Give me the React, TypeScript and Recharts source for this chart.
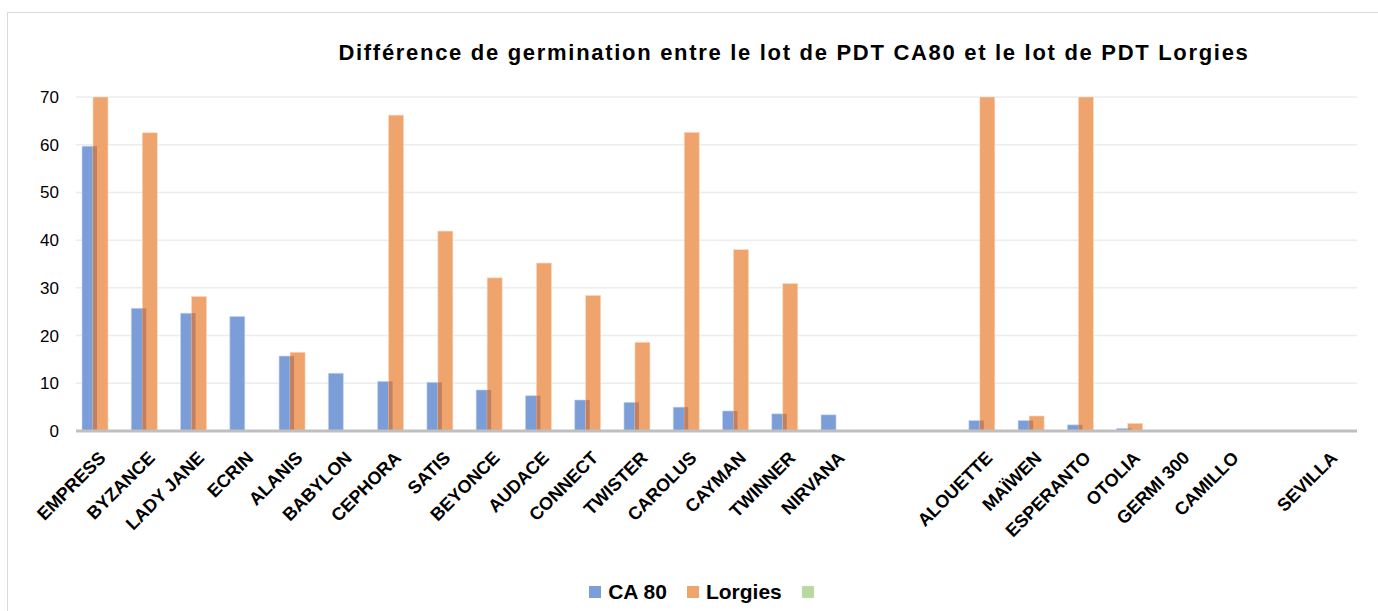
import { BarChart, Bar, XAxis, YAxis, CartesianGrid, Legend } from "recharts";

const varieties = [
  "EMPRESS", "BYZANCE", "LADY JANE", "ECRIN", "ALANIS", "BABYLON", "CEPHORA",
  "SATIS", "BEYONCE", "AUDACE", "CONNECT", "TWISTER", "CAROLUS", "CAYMAN",
  "TWINNER", "NIRVANA", "", "", "ALOUETTE", "MAÏWEN", "ESPERANTO", "OTOLIA",
  "GERMI 300", "CAMILLO", "", "SEVILLA",
];

const ca80 = [
  59.7, 25.7, 24.7, 24.0, 15.7, 12.1, 10.4, 10.2, 8.6, 7.4, 6.5, 6.0, 5.0,
  4.2, 3.6, 3.4, null, null, 2.2, 2.2, 1.3, 0.55, 0, 0, null, 0,
];

const lorgies = [
  70, 62.5, 28.2, null, 16.5, null, 66.2, 41.9, 32.1, 35.2, 28.4, 18.6, 62.6,
  38.0, 30.9, null, null, null, 70, 3.15, 70, 1.6, 0, 0, null, 0,
];

// third series exists in the legend but has no values
const third = varieties.map(() => null);

const yTicks = [0, 10, 20, 30, 40, 50, 60, 70];

const BLUE = "#7b9ed8";
const ORANGE = "#f0a46d";
const GREEN = "#b8d9a2";

const data = varieties.map((name, i) => ({
  name,
  ca80: ca80[i],
  lorgies: lorgies[i],
  third: third[i],
}));

const FONT = "'Liberation Sans', Arial, sans-serif";

function XTick({ x, y, payload }: any) {
  return (
    <text
      transform={`translate(${x + 6}, ${y + 20}) rotate(-45)`}
      textAnchor="end"
      fontFamily={FONT}
      fontWeight="bold"
      fontSize={18}
      fill="#000"
    >
      {payload.value}
    </text>
  );
}

// orange bar with the darker strip where it overlaps the blue one
function LorgiesBar(props: any) {
  const { x, y, width, height, payload } = props;
  if (!height || height <= 0) return null;
  const own = payload.lorgies as number;
  const blue = (payload.ca80 as number) || 0;
  const overlapH = own > 0 ? (height * Math.min(blue, own)) / own : 0;
  return (
    <g>
      <rect x={x} y={y} width={width} height={height} fill={ORANGE} stroke="#fbd9c0" strokeWidth={0.6} />
      {overlapH > 0 && (
        <rect x={x} y={y + height - overlapH} width={4} height={overlapH} fill="#c3805f" />
      )}
    </g>
  );
}

function LegendContent() {
  const items = [
    { label: "CA 80", color: BLUE },
    { label: "Lorgies", color: ORANGE },
    { label: "", color: GREEN },
  ];
  return (
    <div style={{ display: "flex", justifyContent: "center", alignItems: "center", fontFamily: FONT }}>
      {items.map((it, i) => (
        <div key={i} style={{ display: "flex", alignItems: "center", marginRight: i < items.length - 1 ? 20 : 0 }}>
          <span style={{ width: 12, height: 12, background: it.color, display: "inline-block", marginRight: it.label ? 7 : 0 }} />
          {it.label && <span style={{ fontSize: 21, fontWeight: "bold", color: "#000" }}>{it.label}</span>}
        </div>
      ))}
    </div>
  );
}

export default function App() {
  return (
    <div
      style={{
        position: "fixed",
        left: 7,
        top: 12,
        width: 1371,
        height: 599,
        borderTop: "1px solid #d9d9d9",
        borderLeft: "1px solid #d9d9d9",
        background: "#fff",
      }}
    >
      <BarChart
        width={1371}
        height={599}
        data={data}
        margin={{ top: 84, right: 22, left: 38, bottom: 8 }}
        barSize={15}
        barGap={-4}
        barCategoryGap={6}
      >
        <text
          x={786}
          y={47}
          textAnchor="middle"
          fontFamily={FONT}
          fontWeight="bold"
          fontSize={22}
          letterSpacing={1.7}
          fill="#000"
        >
          Différence de germination entre le lot de PDT CA80 et le lot de PDT Lorgies
        </text>
        <CartesianGrid vertical={false} stroke="#ececec" strokeWidth={1.5} />
        <XAxis
          dataKey="name"
          interval={0}
          tick={<XTick />}
          tickLine={false}
          axisLine={{ stroke: "#bfbfbf", strokeWidth: 3 }}
          height={149}
        />
        <YAxis
          domain={[0, 70]}
          ticks={yTicks}
          allowDataOverflow
          axisLine={false}
          tickLine={false}
          width={30}
          tickMargin={11}
          tick={{ fontFamily: FONT, fontSize: 17, fill: "#000" }}
        />
        <Legend verticalAlign="bottom" content={<LegendContent />} />
        <Bar dataKey="ca80" name="CA 80" fill={BLUE} stroke="#c9d7f0" strokeWidth={0.6} isAnimationActive={false} />
        <Bar dataKey="lorgies" name="Lorgies" fill={ORANGE} shape={<LorgiesBar />} isAnimationActive={false} />
        <Bar dataKey="third" name="" fill={GREEN} isAnimationActive={false} />
      </BarChart>
    </div>
  );
}
